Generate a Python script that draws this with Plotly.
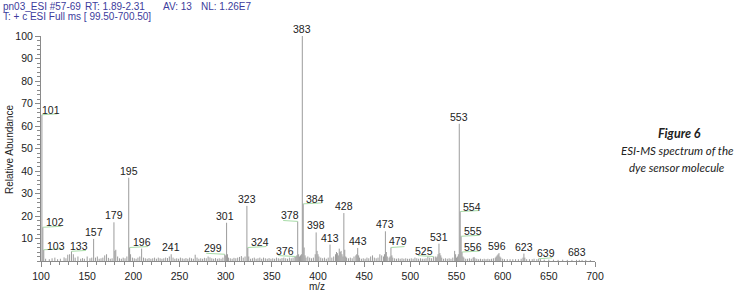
import plotly.graph_objects as go

# ---------------- data ----------------
# labelled peaks (m/z, relative abundance)
label_mz = [101, 102, 103, 133, 157, 179, 195, 196, 241, 299, 301, 323, 324, 376, 378,
            383, 384, 398, 413, 428, 443, 473, 479, 525, 531, 553, 554, 555, 556, 596,
            623, 639, 683]
label_int = [65, 15, 5, 4.3, 9.8, 17.2, 37, 6, 3, 3, 17, 24.5, 6, 2, 17.6,
             100, 25.4, 12.7, 7.3, 21.3, 5.8, 13.2, 6, 2, 7.7, 61, 22, 11, 4, 3.5,
             3.3, 1.0, 0.5]

# unlabelled minor peaks
minor_mz = [105, 109, 112, 115, 118, 121, 125, 127, 129, 131, 135, 137, 140, 143, 145, 147,
            150, 153, 155, 159, 161, 163, 165, 167, 169, 171, 173, 175, 177, 180, 181, 183,
            185, 187, 189, 191, 193, 197, 199, 201, 203, 205, 207, 209, 211, 213, 215, 217,
            219, 221, 223, 225, 227, 229, 231, 233, 235, 237, 239, 243, 245, 247, 249, 251,
            253, 255, 257, 259, 261, 263, 265, 267, 269, 271, 273, 275, 277, 279, 281, 283,
            285, 287, 289, 291, 293, 295, 297, 300, 302, 303, 305, 307, 309, 311, 313, 315,
            317, 319, 321, 325, 327, 329, 331, 333, 335, 337, 339, 341, 343, 345, 347, 349,
            351, 353, 355, 357, 359, 361, 363, 365, 367, 369, 371, 373, 375, 377, 379, 380,
            381, 382, 385, 386, 387, 389, 391, 393, 395, 397, 399, 400, 401, 403, 405, 407,
            409, 411, 415, 417, 419, 420, 421, 422, 423, 424, 425, 426, 427, 429, 430, 431,
            433, 435, 437, 439, 441, 442, 444, 445, 447, 449, 451, 453, 455, 457, 459, 461,
            463, 465, 467, 469, 471, 472, 474, 475, 477, 478, 480, 481, 483, 485, 487, 489,
            491, 493, 495, 497, 499, 501, 503, 505, 507, 509, 511, 513, 515, 517, 519, 521,
            523, 527, 528, 529, 530, 532, 533, 534, 536, 538, 540, 542, 544, 546, 548, 549,
            550, 551, 552, 557, 558, 560, 562, 564, 566, 568, 569, 570, 572, 574, 576, 578,
            580, 582, 584, 586, 588, 590, 592, 593, 594, 595, 597, 598, 600, 602, 605, 608,
            611, 614, 617, 620, 622, 624, 626, 629, 632, 634, 637, 641, 645, 650, 655, 660,
            665, 670, 675, 680, 686, 690, 695]
minor_int = [1.0, 0.8, 1.2, 1.5, 0.8, 1.0, 1.6, 1.2, 2.8, 3.0, 3.0, 1.5, 2.0, 1.0, 1.3, 1.0,
             2.0, 1.2, 1.5, 1.5, 2.0, 1.0, 1.2, 1.5, 2.5, 3.0, 1.4, 1.0, 1.2, 4.5, 5.0, 2.0,
             1.2, 1.0, 1.5, 1.2, 2.0, 3.0, 1.5, 1.2, 1.0, 1.5, 2.0, 5.5, 1.5, 1.2, 1.0, 1.3,
             1.0, 1.2, 1.5, 1.0, 1.5, 1.2, 1.0, 1.2, 1.5, 1.3, 2.0, 1.5, 1.0, 1.2, 1.0, 1.5,
             1.2, 1.0, 1.3, 1.0, 1.5, 1.2, 1.0, 2.8, 1.5, 1.0, 1.2, 1.0, 1.4, 1.2, 2.0, 1.6,
             1.2, 1.0, 1.3, 1.0, 1.2, 1.0, 1.5, 2.5, 3.0, 1.5, 1.2, 1.0, 1.4, 1.2, 1.5, 1.8,
             2.2, 1.5, 2.0, 2.0, 1.0, 1.2, 1.5, 1.0, 1.2, 1.5, 1.0, 1.5, 1.2, 1.0, 1.3, 1.0,
             1.2, 1.0, 1.5, 1.2, 1.0, 1.3, 1.5, 1.2, 1.0, 1.5, 1.2, 1.5, 1.8, 2.5, 3.0, 2.0,
             2.5, 3.0, 6.0, 2.5, 1.5, 2.0, 1.5, 1.2, 1.5, 3.0, 4.5, 3.0, 2.0, 1.5, 1.2, 1.5,
             1.0, 1.5, 1.5, 2.0, 3.0, 4.0, 3.5, 2.5, 5.5, 4.0, 4.5, 3.0, 2.0, 5.0, 2.0, 1.5,
             1.2, 1.5, 1.2, 2.0, 2.5, 3.0, 2.5, 1.5, 1.0, 1.2, 1.0, 1.5, 1.2, 2.0, 2.5, 1.5,
             1.2, 1.5, 3.0, 2.5, 2.0, 3.0, 4.0, 2.0, 1.5, 2.0, 2.5, 1.5, 1.2, 1.0, 1.2, 1.0,
             1.2, 1.0, 1.2, 1.0, 1.0, 1.2, 1.0, 1.5, 1.2, 1.0, 1.2, 1.0, 1.0, 1.2, 2.0, 1.5,
             1.2, 2.0, 1.5, 2.0, 3.0, 3.5, 2.5, 1.5, 1.0, 1.2, 1.0, 1.2, 1.0, 1.5, 4.5, 3.0,
             1.5, 2.0, 3.0, 2.0, 1.5, 1.0, 1.0, 1.2, 1.0, 1.5, 1.8, 1.2, 1.0, 0.8, 1.0, 0.8,
             1.0, 0.8, 1.0, 0.8, 1.0, 1.2, 1.5, 2.0, 2.5, 3.0, 2.0, 1.5, 1.0, 0.8, 0.8, 0.8,
             0.8, 0.8, 0.8, 1.0, 1.5, 1.5, 0.8, 0.8, 0.8, 1.0, 0.8, 0.8, 0.6, 0.6, 0.6, 0.5,
             0.6, 0.5, 0.5, 0.5, 0.5, 0.5, 0.4]

x_ticks = [100, 150, 200, 250, 300, 350, 400, 450, 500, 550, 600, 650, 700]
y_ticks = [10, 20, 30, 40, 50, 60, 70, 80, 90, 100]

header_parts = ["pn03_ESI #57-69", "RT: 1.89-2.31", "AV: 13", "NL: 1.26E7"]
header_line2 = "T: + c ESI Full ms [ 99.50-700.50]"
caption_title = "Figure 6"
caption_lines = ["ESI-MS spectrum of the", "dye sensor molecule"]

# label placement (pixel offsets of label centre from peak top; leader flag)
label_style = {
    101: (9, -5, True), 102: (12, -5, True), 103: (12, -4, True), 133: (8, -5, True),
    157: (0, -7, False), 179: (0, -7, False), 195: (0, -7, False), 196: (12, -6, True),
    241: (0, -7, False), 299: (-12, -6, True), 301: (-2, -7, False), 323: (0, -7, False),
    324: (12, -6, True), 376: (-11, -6, True), 378: (-8, -6, True), 383: (0, -7, False),
    384: (12, -5, True), 398: (0, -7, False), 413: (0, -7, False), 428: (0, -7, False),
    443: (0, -7, False), 473: (0, -7, False), 479: (7, -7, True), 525: (-9, -6, True),
    531: (0, -7, False), 553: (0, -7, False), 554: (12, -5, True), 555: (12, -5, True),
    556: (11, -5, True), 596: (-2, -7, False), 623: (0, -7, False), 639: (7, -6, True),
    683: (-2, -8, False),
}

# ---------------- figure ----------------
all_mz = label_mz + minor_mz
all_int = label_int + minor_int
xs, ys = [], []
for m, v in zip(all_mz, all_int):
    xs += [m, m, None]
    ys += [0, v, None]

fig = go.Figure()
fig.add_trace(go.Scatter(x=xs, y=ys, mode="lines",
                         line=dict(color="#9c9c9c", width=1),
                         hoverinfo="skip", showlegend=False))

annotations = []
lab_font = dict(family="Liberation Sans, Arial", size=10.5, color="#222222")
for m, v in zip(label_mz, label_int):
    dx, dy, lead = label_style[m]
    if lead:
        # green leader running from the peak top beneath the label
        sgn = 1 if dx > 0 else -1
        annotations.append(dict(
            x=m, y=v, xref="x", yref="y", text="",
            showarrow=True, arrowhead=0, ax=dx + sgn * 8, ay=-1,
            arrowwidth=1, arrowcolor="#a8dca8", standoff=0, startstandoff=0,
        ))
    annotations.append(dict(
        x=m, y=v, xref="x", yref="y", text=str(m),
        showarrow=True, arrowhead=0, ax=dx, ay=dy,
        arrowwidth=0.5, arrowcolor="rgba(0,0,0,0)",
        font=lab_font,
    ))

L, T, W, H = 41, 35.5, 554, 226


def px(xp):
    return (xp - L) / W


def py(yp):
    return (T + H - yp) / H


hdr_font = dict(family="Liberation Sans, Arial", size=10, color="#3c3c9c")
for txt, xp in zip(header_parts, [1, 83, 161, 199]):
    annotations.append(dict(x=px(xp), y=py(6), xref="paper", yref="paper", text=txt,
                            showarrow=False, xanchor="left", yanchor="middle", font=hdr_font))
annotations.append(dict(x=px(1), y=py(16), xref="paper", yref="paper", text=header_line2,
                        showarrow=False, xanchor="left", yanchor="middle", font=hdr_font))

annotations.append(dict(x=px(10), y=py(150), xref="paper", yref="paper",
                        text="Relative Abundance", textangle=-90, showarrow=False,
                        xanchor="center", yanchor="middle",
                        font=dict(family="Liberation Sans, Arial", size=10, color="#222222")))
annotations.append(dict(x=px(317), y=py(287), xref="paper", yref="paper",
                        text="m/z", showarrow=False, xanchor="center", yanchor="middle",
                        font=dict(family="Liberation Sans, Arial", size=10, color="#222222")))

annotations.append(dict(x=px(679), y=py(133), xref="paper", yref="paper",
                        text="<b><i>" + caption_title + "</i></b>", showarrow=False,
                        xanchor="center", yanchor="middle",
                        font=dict(family="Lato", size=12.5, color="#222222")))
for txt, yp in zip(caption_lines, [150.5, 167.3]):
    annotations.append(dict(x=px(677), y=py(yp), xref="paper", yref="paper",
                            text="<i>" + txt + "</i>", showarrow=False,
                            xanchor="center", yanchor="middle",
                            font=dict(family="Lato", size=11.5, color="#222222")))

fig.update_layout(
    width=734, height=293,
    margin=dict(l=L, r=734 - L - W, t=T, b=293 - T - H, pad=0, autoexpand=False),
    paper_bgcolor="white", plot_bgcolor="white",
    showlegend=False,
    annotations=annotations,
    xaxis=dict(range=[100, 700], tickmode="array", tickvals=x_ticks,
               ticktext=[str(t) for t in x_ticks],
               showgrid=False, zeroline=False, showline=True, linecolor="#8a8a8a",
               linewidth=1, ticks="outside", ticklen=5, tickcolor="#8a8a8a",
               tickfont=dict(family="Liberation Sans, Arial", size=10.5, color="#222222"),
               minor=dict(tick0=100, dtick=10, ticks="outside", ticklen=3,
                          tickcolor="#8a8a8a", showgrid=False)),
    yaxis=dict(range=[0, 100], tickmode="array", tickvals=y_ticks,
               ticktext=[str(t) for t in y_ticks],
               showgrid=False, zeroline=False, showline=True, linecolor="#8a8a8a",
               linewidth=1, ticks="outside", ticklen=5, tickcolor="#8a8a8a",
               tickfont=dict(family="Liberation Sans, Arial", size=10.5, color="#222222"),
               minor=dict(tick0=0, dtick=2, ticks="outside", ticklen=3,
                          tickcolor="#8a8a8a", showgrid=False)),
)

fig.write_html("out.html", config={"displayModeBar": False},
               post_script="document.body.style.margin='0';document.body.style.overflow='hidden';")
